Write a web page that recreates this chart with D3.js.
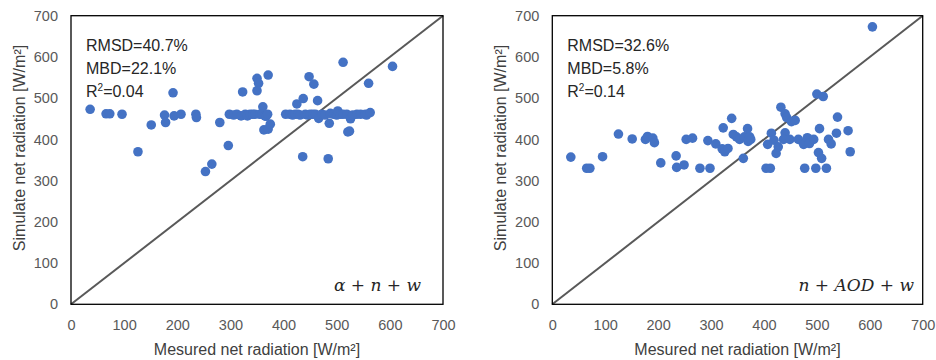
<!DOCTYPE html>
<html>
<head>
<meta charset="utf-8">
<script src="https://cdn.jsdelivr.net/npm/d3@7"></script>
<style>
  html, body { margin: 0; padding: 0; background: #fff; }
  svg { display: block; font-family: "Liberation Sans", Arial, sans-serif; }
</style>
</head>
<body>
<svg id="chart" width="936" height="360"></svg>
<script>
// Tick values shared by both axes of both panels
const tickValues = [0, 100, 200, 300, 400, 500, 600, 700];

// Panel A: alpha + n + w  — [measured, simulated]
const measuredA = [36, 66, 73, 96, 126, 151, 176, 178, 192, 194, 207, 235, 236, 253, 265, 280, 296, 298, 306, 312, 320, 323, 328, 332, 337, 342, 346, 350, 353, 350, 355, 361, 360, 365, 367, 370, 363, 371, 371, 375, 404, 412, 417, 422, 425, 427, 437, 431, 436, 441, 445, 448, 450, 455, 457, 460, 464, 466, 472, 478, 486, 484, 488, 494, 500, 502, 507, 512, 512, 519, 521, 524, 526, 530, 538, 545, 554, 556, 560, 563, 605];
const simulatedA = [473, 462, 462, 461, 370, 435, 459, 441, 513, 457, 461, 461, 453, 322, 340, 441, 385, 461, 459, 461, 457, 515, 461, 457, 461, 461, 461, 548, 536, 518, 461, 479, 461, 457, 456, 461, 423, 556, 425, 437, 461, 461, 459, 461, 486, 461, 499, 459, 358, 461, 459, 552, 461, 461, 534, 461, 494, 451, 461, 459, 439, 353, 463, 461, 459, 469, 461, 587, 461, 461, 418, 420, 450, 459, 461, 461, 461, 459, 536, 465, 577];

// Panel B: n + AOD + w — [measured, simulated]
const measuredB = [35, 65, 71, 95, 125, 151, 176, 180, 190, 193, 205, 234, 235, 249, 253, 265, 279, 294, 298, 309, 321, 323, 326, 332, 339, 342, 348, 354, 361, 363, 369, 370, 373, 375, 404, 412, 407, 414, 419, 423, 427, 432, 440, 443, 440, 437, 449, 452, 459, 465, 477, 475, 482, 486, 494, 498, 500, 503, 505, 509, 512, 518, 522, 527, 537, 539, 559, 563, 605];
const simulatedB = [357, 330, 330, 358, 413, 401, 400, 407, 403, 392, 343, 360, 332, 338, 400, 403, 330, 397, 330, 389, 377, 428, 370, 378, 451, 412, 406, 400, 354, 406, 426, 395, 406, 400, 330, 330, 388, 415, 398, 366, 382, 478, 462, 453, 416, 400, 400, 443, 446, 400, 330, 388, 404, 390, 400, 330, 510, 368, 426, 354, 504, 330, 400, 389, 415, 454, 421, 370, 673];

const statsA = ["RMSD=40.7%", "MBD=22.1%", "R²=0.04"];
const statsB = ["RMSD=32.6%", "MBD=5.8%", "R²=0.14"];

const svg = d3.select("#chart");
const dotColor = "#4472C4";
const textColor = "#404040";
const tickColor = "#595959";

function drawPanel(opts) {
  const { left, right, top, bottom, xs, ys, stats, labelParts, labelRight } = opts;
  const g = svg.append("g");
  const x = d3.scaleLinear().domain([0, 700]).range([left, right]);
  const y = d3.scaleLinear().domain([0, 700]).range([bottom, top]);

  // axes: labels only, ticks hidden
  const xAxis = d3.axisBottom(x).tickValues(tickValues).tickSize(0).tickPadding(15);
  const yAxis = d3.axisLeft(y).tickValues(tickValues).tickSize(0).tickPadding(13);
  const gx = g.append("g").attr("transform", `translate(0,${bottom})`).call(xAxis);
  const gy = g.append("g").attr("transform", `translate(${left},0)`).call(yAxis);
  [gx, gy].forEach(a => {
    a.select(".domain").remove();
    a.selectAll("text").attr("fill", tickColor).style("font-size", "14.5px")
      .style("font-family", "'Liberation Sans', Arial, sans-serif");
  });

  // 1:1 line
  g.append("line")
    .attr("x1", x(0)).attr("y1", y(0)).attr("x2", x(700)).attr("y2", y(700))
    .attr("stroke", "#595959").attr("stroke-width", 2);

  // points
  g.append("g").selectAll("circle")
    .data(xs.map((v, i) => [v, ys[i]]))
    .join("circle")
    .attr("cx", d => x(d[0])).attr("cy", d => y(d[1]))
    .attr("r", 4.8)
    .attr("fill", dotColor);

  // frame
  g.append("rect")
    .attr("x", left).attr("y", top)
    .attr("width", right - left).attr("height", bottom - top)
    .attr("fill", "none").attr("stroke", "#000").attr("stroke-width", 1.3);

  // statistics
  stats.forEach((s, i) => {
    const t = g.append("text")
      .attr("x", left + 15).attr("y", top + 35 + i * 23)
      .attr("fill", "#262626").style("font-size", "16px");
    if (s.startsWith("R²")) {
      t.append("tspan").text("R");
      t.append("tspan").text("2").attr("dy", -6).style("font-size", "10px");
      t.append("tspan").text(s.slice(2)).attr("dy", 6);
    } else {
      t.text(s);
    }
  });

  // model label
  const lt = g.append("text")
    .attr("x", labelRight).attr("y", bottom - 13)
    .attr("text-anchor", "end")
    .attr("fill", "#262626")
    .style("font-family", "'DejaVu Serif', 'Liberation Serif', serif")
    .style("font-size", "17px");
  labelParts.forEach(p => {
    lt.append("tspan").text(p.t).style("font-style", p.italic ? "italic" : "normal");
  });

  // axis titles
  g.append("text")
    .attr("x", (left + right) / 2).attr("y", 355)
    .attr("text-anchor", "middle").attr("fill", textColor)
    .style("font-size", "16px")
    .text("Mesured net radiation [W/m²]");
  g.append("text")
    .attr("transform", `translate(${left - 46},148) rotate(-90)`)
    .attr("text-anchor", "middle").attr("fill", textColor)
    .style("font-size", "16px")
    .text("Simulate net radiation [W/m²]");
}

drawPanel({
  left: 71, right: 443, top: 15.7, bottom: 304.3,
  xs: measuredA, ys: simulatedA, stats: statsA, labelRight: 421,
  labelParts: [{ t: "α", italic: true }, { t: " + " }, { t: "n", italic: true }, { t: " + " }, { t: "w", italic: true }]
});
drawPanel({
  left: 552.3, right: 922.7, top: 15.7, bottom: 304.3,
  xs: measuredB, ys: simulatedB, stats: statsB, labelRight: 914,
  labelParts: [{ t: "n", italic: true }, { t: " + " }, { t: "AOD", italic: true }, { t: " + " }, { t: "w", italic: true }]
});
</script>
</body>
</html>
